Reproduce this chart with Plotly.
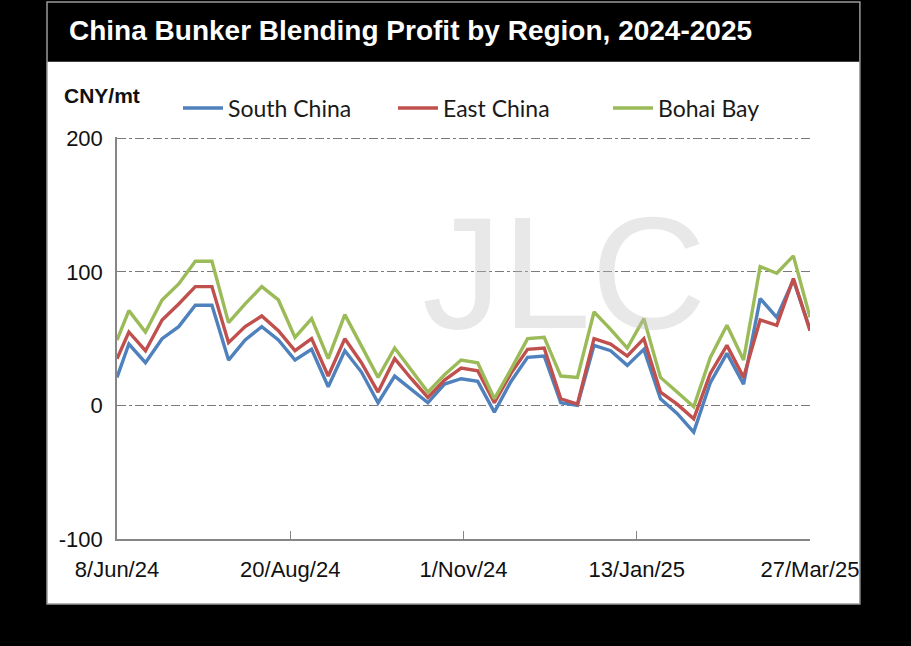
import plotly.graph_objects as go

dates = [
    "2024-06-08", "2024-06-13", "2024-06-20", "2024-06-27", "2024-07-04", "2024-07-11",
    "2024-07-18", "2024-07-25", "2024-08-01", "2024-08-08", "2024-08-15", "2024-08-22",
    "2024-08-29", "2024-09-05", "2024-09-12", "2024-09-19", "2024-09-26", "2024-10-03",
    "2024-10-10", "2024-10-17", "2024-10-24", "2024-10-31", "2024-11-07", "2024-11-14",
    "2024-11-21", "2024-11-28", "2024-12-05", "2024-12-12", "2024-12-19", "2024-12-26",
    "2025-01-02", "2025-01-09", "2025-01-16", "2025-01-23", "2025-01-30", "2025-02-06",
    "2025-02-13", "2025-02-20", "2025-02-27", "2025-03-06", "2025-03-13", "2025-03-20",
    "2025-03-27",
]

south_china = [21, 46, 32, 50, 59, 75, 75, 34, 49, 59, 49, 34, 42, 14, 41, 25, 2, 22,
               12, 2, 16, 20, 18, -5, 18, 36, 37, 2, 0, 45, 41, 30, 42, 5, -6, -20,
               17, 39, 16, 80, 66, 94, 57]
east_china = [35, 55, 41, 64, 76, 89, 89, 47, 59, 67, 56, 41, 50, 22, 50, 32, 10, 35,
              20, 6, 19, 28, 26, 2, 24, 42, 43, 5, 1, 50, 46, 37, 50, 10, 1, -10,
              24, 45, 21, 64, 60, 95, 56]
bohai_bay = [49, 71, 55, 79, 91, 108, 108, 62, 76, 89, 79, 51, 65, 35, 68, 45, 21, 43,
             26, 10, 23, 34, 32, 5, 27, 50, 51, 22, 21, 70, 57, 43, 65, 21, 10, -1,
             36, 60, 34, 104, 99, 112, 66]

series_names = ["South China", "East China", "Bohai Bay"]
series_colors = ["#4F81BD", "#C0504D", "#9BBB59"]

tick_dates = ["2024-06-08", "2024-08-20", "2024-11-01", "2025-01-13", "2025-03-27"]
tick_labels = ["8/Jun/24", "20/Aug/24", "1/Nov/24", "13/Jan/25", "27/Mar/25"]
y_ticks = [-100, 0, 100, 200]
y_tick_labels = ["-100", "0", "100", "200"]

title_text = "China Bunker Blending Profit by Region, 2024-2025"
unit_text = "CNY/mt"

fig = go.Figure()
for name, vals, col in zip(series_names, [south_china, east_china, bohai_bay], series_colors):
    fig.add_trace(go.Scatter(x=dates, y=vals, name=name, mode="lines",
                             line=dict(color=col, width=3.4)))

fig.update_layout(
    width=911, height=646,
    paper_bgcolor="black", plot_bgcolor="rgba(0,0,0,0)",
    margin=dict(l=117, r=101, t=137, b=107),
    showlegend=True,
    legend=dict(orientation="h", x=0.088, y=1.072, xanchor="left", yanchor="middle",
                font=dict(family="Lato, Open Sans, sans-serif", size=23, color="#1a1a1a"),
                bgcolor="rgba(0,0,0,0)", itemwidth=40, tracegroupgap=0,
                entrywidth=160, entrywidthmode="pixels"),
    xaxis=dict(type="date", range=["2024-06-08", "2025-03-27"],
               tickvals=tick_dates, ticktext=tick_labels,
               ticks="inside", ticklen=8, tickcolor="#868686", tickwidth=1,
               showline=True, linecolor="#868686", linewidth=1.5,
               showgrid=False, zeroline=False, ticklabelstandoff=10,
               tickfont=dict(family="Liberation Sans, Arial, sans-serif", size=22, color="#111"),
               fixedrange=True),
    yaxis=dict(range=[-100, 201], tickvals=y_ticks, ticktext=y_tick_labels, ticks="",
               showline=True, linecolor="#868686", linewidth=1.5,
               showgrid=True, gridcolor="#7a7a7a", gridwidth=1, griddash="dashdot",
               zeroline=False,
               tickfont=dict(family="Liberation Sans, Arial, sans-serif", size=22, color="#111"),
               ticklabelstandoff=8),
    shapes=[
        dict(type="rect", xref="paper", yref="paper", x0=-0.101, x1=1.072, y0=-0.162, y1=1.187,
             fillcolor="white", line=dict(width=0), layer="below"),
        dict(type="rect", xref="paper", yref="paper", x0=-0.101, x1=1.072, y0=-0.162, y1=1.336,
             fillcolor="rgba(0,0,0,0)", line=dict(color="#9a9a9a", width=1.5), layer="below"),
    ],
    annotations=[
        dict(text="JLC", xref="paper", yref="paper", x=0.646, y=0.664,
             xanchor="center", yanchor="middle", showarrow=False,
             font=dict(family="Liberation Sans Narrow, Liberation Sans, sans-serif", size=160,
                       color="rgba(190,190,190,0.35)")),
        dict(text=title_text, xref="paper", yref="paper", x=-0.0722, y=1.266,
             xanchor="left", yanchor="middle", showarrow=False,
             font=dict(family="Liberation Sans, Arial, sans-serif", size=28, color="white",
                       weight="bold")),
        dict(text=unit_text, xref="paper", yref="paper", x=-0.0794, y=1.102,
             xanchor="left", yanchor="middle", showarrow=False,
             font=dict(family="Liberation Sans, Arial, sans-serif", size=21, color="#111",
                       weight="bold")),
    ],
)

fig.write_html("out.html")
